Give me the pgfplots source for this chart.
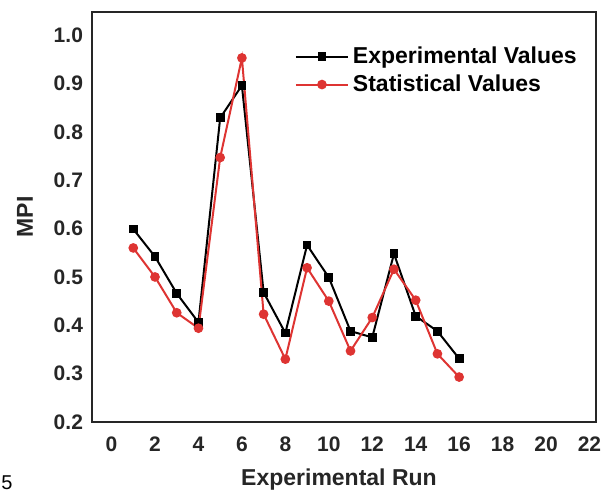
\documentclass[border=0pt]{standalone}
\usepackage{pgfplots}
\pgfplotsset{compat=1.18}
\usepackage{fontspec}
\setmainfont{Liberation Sans}
\definecolor{statred}{RGB}{222,52,50}
\begin{document}
\begin{tikzpicture}
  \useasboundingbox (-46pt,-36pt) rectangle (258.5pt,211pt);
  \begin{axis}[
    scale only axis,
    width=252pt, height=205pt,
    xmin=-0.9, xmax=22.3,
    ymin=0.2, ymax=1.048,
    xtick={0,2,...,22},
    ytick={0.2,0.3,...,1.0},
    major tick length=0pt,
    axis line style={line width=1.1pt, black!85},
    tick label style={font=\bfseries\fontsize{10.5}{12}\selectfont, black!85},
    /pgf/number format/assume math mode=true,
    y tick label style={/pgf/number format/.cd, fixed, fixed zerofill, precision=1, /tikz/.cd, xshift=-1pt},
    x tick label style={yshift=-4pt},
    xlabel={Experimental Run},
    ylabel={MPI},
    label style={font=\bfseries\fontsize{11.5}{13}\selectfont, black!85},
    xlabel style={at={(axis description cs:0.49,-0.141)}, anchor=center},
    ylabel style={at={(axis description cs:-0.133,0.5)}, anchor=center},
    legend style={draw=none, fill=none, at={(axis description cs:0.39,0.935)}, anchor=north west,
      font=\bfseries\fontsize{11.5}{14}\selectfont, row sep=0pt},
    legend cell align={left},
    legend image code/.code={
      \draw[mark repeat=2, mark phase=2] plot coordinates {(0pt,0pt) (13pt,0pt) (26pt,0pt)};
    },
  ]
    \addplot[black, line width=1pt, mark=square*, mark size=1.7pt] coordinates {
      (1, 0.599)
      (2, 0.542)
      (3, 0.466)
      (4, 0.406)
      (5, 0.829)
      (6, 0.896)
      (7, 0.468)
      (8, 0.384)
      (9, 0.566)
      (10, 0.499)
      (11, 0.388)
      (12, 0.375)
      (13, 0.548)
      (14, 0.419)
      (15, 0.388)
      (16, 0.331)
    };
    \addplot[statred, line width=1pt, mark=*, mark size=1.9pt] coordinates {
      (1, 0.560)
      (2, 0.500)
      (3, 0.426)
      (4, 0.394)
      (5, 0.747)
      (6, 0.953)
      (7, 0.423)
      (8, 0.330)
      (9, 0.519)
      (10, 0.450)
      (11, 0.347)
      (12, 0.416)
      (13, 0.516)
      (14, 0.452)
      (15, 0.341)
      (16, 0.293)
    };
    \legend{Experimental Values, Statistical Values}
  \end{axis}
  \node[font=\fontsize{10}{12}\selectfont] at (-42.5pt,-30.5pt) {5};
\end{tikzpicture}
\end{document}
